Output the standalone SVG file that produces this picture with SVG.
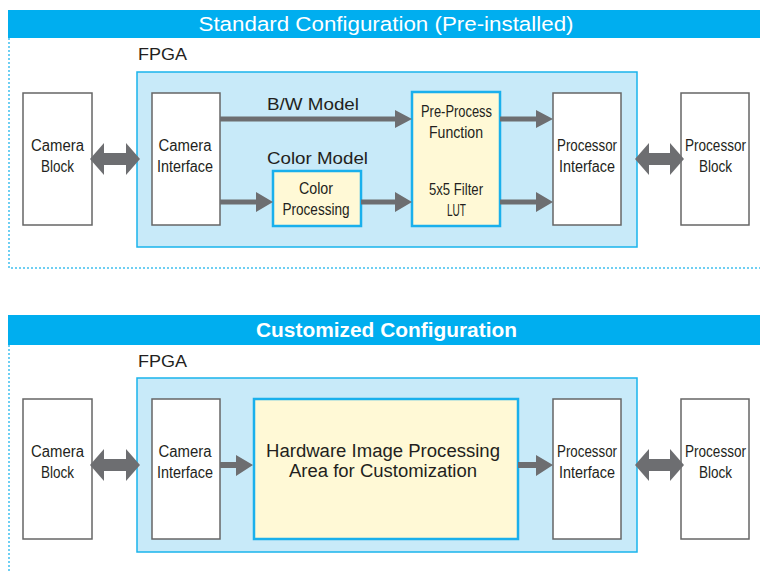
<svg xmlns="http://www.w3.org/2000/svg" width="760" height="572" viewBox="0 0 760 572">
<defs>
<style>
.hdr{fill:#00aeef}
.frame{fill:none;stroke:#3fc0ef;stroke-width:1.5;stroke-dasharray:2 2}
.fpga{fill:#c8eaf9;stroke:#1ab4ec;stroke-width:1.5}
.blk{fill:#ffffff;stroke:#666666;stroke-width:1.5}
.proc{fill:#fff9d6;stroke:#1ab0ec;stroke-width:2.5}
.t{font-family:"Liberation Sans",Arial,sans-serif;fill:#231f20;text-anchor:middle}
.bt{font-size:16px}
.ht{font-family:"Liberation Sans",Arial,sans-serif;fill:#ffffff;text-anchor:middle;font-size:20px}
.lab{font-size:17px}
.arr{fill:#6d6e71}
</style>
</defs>
<rect width="760" height="572" fill="#ffffff"/>

<!-- Section 1 -->
<g id="section1">
<rect class="hdr" x="8" y="10" width="752" height="28"/>
<text class="ht" x="386" y="31" textLength="375" lengthAdjust="spacingAndGlyphs">Standard Configuration (Pre-installed)</text>
<path class="frame" d="M9 38 V268 H760"/>
</g>
<g id="fpga1">
<text class="t lab" x="162.5" y="60" textLength="49" lengthAdjust="spacingAndGlyphs">FPGA</text>
<rect class="fpga" x="137" y="72" width="500" height="175"/>
</g>
<g id="camblock1">
<rect class="blk" x="23" y="93" width="69" height="132"/>
<text class="t bt" x="57.5" y="151" textLength="53" lengthAdjust="spacingAndGlyphs">Camera</text>
<text class="t bt" x="57.5" y="172" textLength="33" lengthAdjust="spacingAndGlyphs">Block</text>
</g>
<g id="camif1">
<rect class="blk" x="152" y="93" width="68" height="132"/>
<text class="t bt" x="185" y="151" textLength="53" lengthAdjust="spacingAndGlyphs">Camera</text>
<text class="t bt" x="185" y="172" textLength="56" lengthAdjust="spacingAndGlyphs">Interface</text>
</g>
<g id="bwlabel">
<text class="t lab" x="313" y="110" textLength="92" lengthAdjust="spacingAndGlyphs">B/W Model</text>
</g>
<g id="colorlabel">
<text class="t lab" x="317.5" y="164" textLength="101" lengthAdjust="spacingAndGlyphs">Color Model</text>
</g>
<g id="colorproc">
<rect class="proc" x="273" y="171" width="88" height="55"/>
<text class="t bt" x="316" y="194" textLength="34" lengthAdjust="spacingAndGlyphs">Color</text>
<text class="t bt" x="316" y="215" textLength="67" lengthAdjust="spacingAndGlyphs">Processing</text>
</g>
<g id="preproc">
<rect class="proc" x="412" y="92" width="88" height="134"/>
<text class="t bt" x="456.5" y="117" textLength="71" lengthAdjust="spacingAndGlyphs">Pre-Process</text>
<text class="t bt" x="456" y="138" textLength="54" lengthAdjust="spacingAndGlyphs">Function</text>
<text class="t bt" x="456" y="195" textLength="54" lengthAdjust="spacingAndGlyphs">5x5 Filter</text>
<text class="t bt" x="456.5" y="216" textLength="19" lengthAdjust="spacingAndGlyphs">LUT</text>
</g>
<g id="procif1">
<rect class="blk" x="553" y="93" width="68" height="132"/>
<text class="t bt" x="587" y="151" textLength="60" lengthAdjust="spacingAndGlyphs">Processor</text>
<text class="t bt" x="587" y="172" textLength="56" lengthAdjust="spacingAndGlyphs">Interface</text>
</g>
<g id="procblock1">
<rect class="blk" x="681" y="93" width="68" height="132"/>
<text class="t bt" x="715.5" y="151" textLength="61" lengthAdjust="spacingAndGlyphs">Processor</text>
<text class="t bt" x="715.5" y="172" textLength="33" lengthAdjust="spacingAndGlyphs">Block</text>
</g>

<!-- Section 2 -->
<g id="section2">
<rect class="hdr" x="8" y="315" width="752" height="30"/>
<text class="ht" x="386.5" y="337" font-weight="bold" textLength="261" lengthAdjust="spacingAndGlyphs">Customized Configuration</text>
<path class="frame" d="M9 345 V572"/>
</g>
<g id="fpga2">
<text class="t lab" x="162.5" y="367" textLength="49" lengthAdjust="spacingAndGlyphs">FPGA</text>
<rect class="fpga" x="137" y="378" width="500" height="174"/>
</g>
<g id="camblock2">
<rect class="blk" x="23" y="399" width="69" height="140"/>
<text class="t bt" x="57.5" y="457" textLength="53" lengthAdjust="spacingAndGlyphs">Camera</text>
<text class="t bt" x="57.5" y="478" textLength="33" lengthAdjust="spacingAndGlyphs">Block</text>
</g>
<g id="camif2">
<rect class="blk" x="152" y="399" width="68" height="140"/>
<text class="t bt" x="185" y="457" textLength="53" lengthAdjust="spacingAndGlyphs">Camera</text>
<text class="t bt" x="185" y="478" textLength="56" lengthAdjust="spacingAndGlyphs">Interface</text>
</g>
<g id="hwarea">
<rect class="proc" x="254" y="399" width="264" height="140" stroke-width="3"/>
<text class="t" font-size="18" x="383" y="457" textLength="234" lengthAdjust="spacingAndGlyphs">Hardware Image Processing</text>
<text class="t" font-size="18" x="383" y="477" textLength="188" lengthAdjust="spacingAndGlyphs">Area for Customization</text>
</g>
<g id="procif2">
<rect class="blk" x="553" y="399" width="68" height="140"/>
<text class="t bt" x="587" y="457" textLength="60" lengthAdjust="spacingAndGlyphs">Processor</text>
<text class="t bt" x="587" y="478" textLength="56" lengthAdjust="spacingAndGlyphs">Interface</text>
</g>
<g id="procblock2">
<rect class="blk" x="681" y="399" width="68" height="140"/>
<text class="t bt" x="715.5" y="457" textLength="61" lengthAdjust="spacingAndGlyphs">Processor</text>
<text class="t bt" x="715.5" y="478" textLength="33" lengthAdjust="spacingAndGlyphs">Block</text>
</g>

<!-- Connectors -->
<g id="connectors" class="arr">
<!-- top double arrows -->
<polygon points="90,159 104,143 104,153 126,153 126,143 140,159 126,175 126,165 104,165 104,175"/>
<polygon points="635,159 649,143 649,153 670,153 670,143 684,159 670,175 670,165 649,165 649,175"/>
<!-- B/W arrow -->
<polygon points="220,116.5 395,116.5 395,110 412,119 395,128 395,121.5 220,121.5"/>
<polygon points="500,116.5 536,116.5 536,110 553,119 536,128 536,121.5 500,121.5"/>
<!-- color arrows -->
<polygon points="220,199.5 256,199.5 256,192 273,202 256,212 256,204.5 220,204.5"/>
<polygon points="361,199.5 395,199.5 395,192 412,202 395,212 395,204.5 361,204.5"/>
<polygon points="500,199.5 536,199.5 536,192 553,202 536,212 536,204.5 500,204.5"/>
<!-- bottom double arrows -->
<polygon points="90,465 104,449 104,459 126,459 126,449 140,465 126,481 126,471 104,471 104,481"/>
<polygon points="635,465 649,449 649,459 670,459 670,449 684,465 670,481 670,471 649,471 649,481"/>
<!-- bottom arrows -->
<polygon points="220,462 236,462 236,455 253,465 236,476 236,468 220,468"/>
<polygon points="518,462 536,462 536,455 553,465 536,476 536,468 518,468"/>
</g>
</svg>
